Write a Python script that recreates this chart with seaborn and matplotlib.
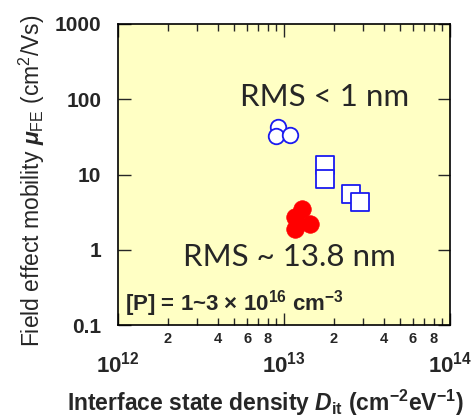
import numpy as np
import pandas as pd
import seaborn as sns
import matplotlib
matplotlib.use('Agg')
import matplotlib.pyplot as plt
from matplotlib import ticker

sns.set_style('ticks')
plt.rcParams['font.family'] = ['Liberation Sans', 'DejaVu Sans']
plt.rcParams['mathtext.fontset'] = 'custom'
plt.rcParams['mathtext.rm'] = 'Liberation Sans'
plt.rcParams['mathtext.it'] = 'Liberation Sans:italic:bold'
plt.rcParams['mathtext.bf'] = 'Liberation Sans:bold'

# Dit (cm^-2 eV^-1) and mobility (cm^2/Vs)
circle_dit = [9.2e12, 8.9e12, 1.09e13]
circle_mu = [42.7, 32.4, 33.9]
square_dit = [1.78e13, 1.78e13, 2.52e13, 2.87e13]
square_mu = [13.2, 8.8, 5.5, 4.3]
rough_dit = [1.28e13, 1.165e13, 1.435e13, 1.165e13]
rough_mu = [3.5, 2.7, 2.2, 1.9]

xticks_major = [1e12, 1e13, 1e14]
yticks = [0.1, 1, 10, 100, 1000]
ytick_labels = ['0.1', '1', '10', '100', '1000']

df = pd.DataFrame({
    'dit': circle_dit + square_dit + rough_dit,
    'mu': circle_mu + square_mu + rough_mu,
    'group': ['circle'] * 3 + ['square'] * 4 + ['rough'] * 4,
})

fig = plt.figure(figsize=(4.72, 4.2), dpi=100)
ax = fig.add_axes([0.25, 0.226, 0.703, 0.717])
ax.set_facecolor('#FFFFC4')

blue = '#1A1AF0'
sns.scatterplot(data=df[df.group == 'circle'], x='dit', y='mu', ax=ax,
                marker='o', s=125, facecolor='white', edgecolor=blue,
                linewidth=1.3, zorder=3)
sns.scatterplot(data=df[df.group == 'square'], x='dit', y='mu', ax=ax,
                marker='s', s=150, facecolor='white', edgecolor=blue,
                linewidth=1.3, zorder=3)
sns.scatterplot(data=df[df.group == 'rough'], x='dit', y='mu', ax=ax,
                marker='o', s=160, color='#FF0000', edgecolor='#FF0000',
                linewidth=0.5, zorder=3)

ax.set_xscale('log')
ax.set_yscale('log')
ax.set_xlim(1e12, 1e14)
ax.set_ylim(0.1, 1000)


def minor_lab(v, p):
    d = int(round(v / 10 ** np.floor(np.log10(v) + 1e-9)))
    return str(d) if d in (2, 4, 6, 8) else ''


ax.set_xticks(xticks_major)
ax.xaxis.set_major_formatter(ticker.FuncFormatter(
    lambda v, p: r'$\mathbf{10^{%d}}$' % round(np.log10(v))))
ax.xaxis.set_minor_locator(ticker.LogLocator(base=10, subs=np.arange(2, 10)))
ax.xaxis.set_minor_formatter(ticker.FuncFormatter(minor_lab))
ax.set_yticks(yticks)
ax.set_yticklabels(ytick_labels)
ax.yaxis.set_minor_locator(ticker.NullLocator())

ax.tick_params(axis='both', which='major', direction='in', length=9, width=1,
               top=True, right=True)
ax.tick_params(axis='x', which='major', pad=19, labelsize=16)
ax.tick_params(axis='y', which='major', pad=12, labelsize=15)
ax.tick_params(axis='x', which='minor', direction='in', length=5, width=1,
               top=True, labelsize=10.5, pad=5)
for lab in ax.get_yticklabels() + ax.get_xticklabels(which='minor'):
    lab.set_fontweight('bold')
for sp in ax.spines.values():
    sp.set_linewidth(1.2)
    sp.set_color('black')

ax.set_xlabel(r'Interface state density $\mathit{D}_{\mathbf{it}}$ (cm$^{\mathbf{-2}}$eV$^{\mathbf{-1}}$)',
              fontsize=16.5, fontweight='bold')
ax.xaxis.set_label_coords(0.443, -0.208)
ax.set_ylabel(r'Field effect mobility $\mathit{\mu}_{\mathrm{FE}}$ (cm$^{\mathrm{2}}$/Vs)',
              fontsize=16.5)
ax.yaxis.set_label_coords(-0.215, 0.478)

ax.text(0.367, 0.757, 'RMS < 1 nm', transform=ax.transAxes, fontsize=22.5,
        family=['Lato', 'DejaVu Sans'], va='center', ha='left')
ax.text(0.196, 0.226, 'RMS ~ 13.8 nm', transform=ax.transAxes, fontsize=22.5,
        family=['Lato', 'DejaVu Sans'], va='center', ha='left')
ax.text(0.021, 0.05, r'[P] = 1~3 $\mathbf{\times}$ $\mathbf{10^{16}}$ cm$^{\mathbf{-3}}$',
        transform=ax.transAxes, fontsize=16, fontweight='bold', va='baseline', ha='left')

fig.savefig('out.png', dpi=100)
